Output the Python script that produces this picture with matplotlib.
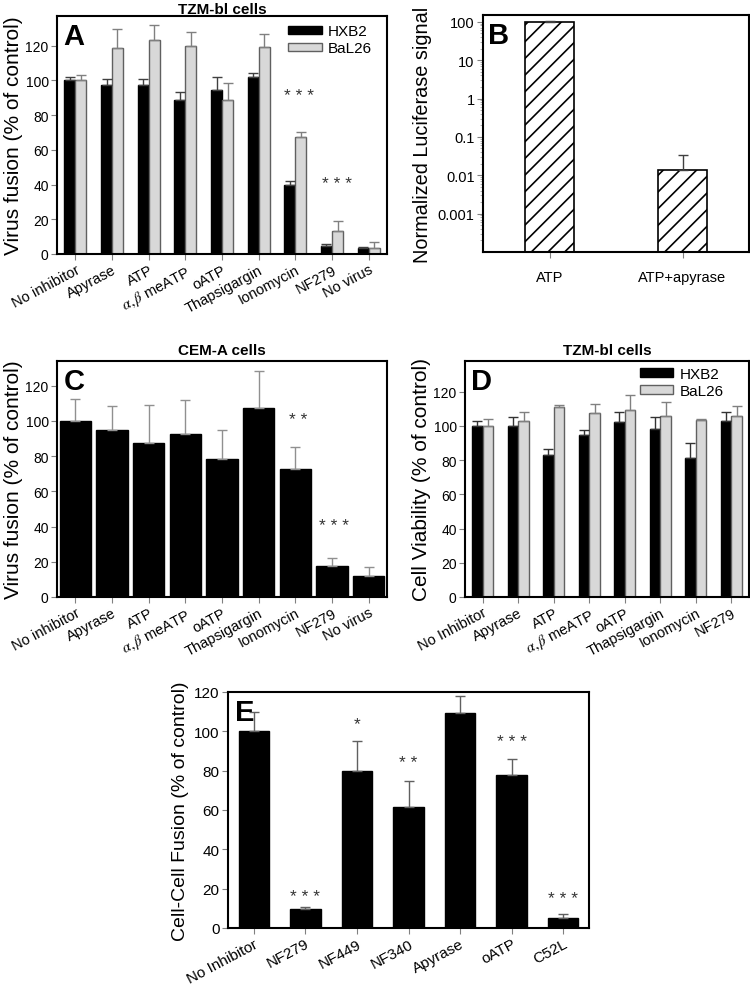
import numpy as np
import matplotlib
matplotlib.use("Agg")
import matplotlib.pyplot as plt
from matplotlib.ticker import FixedLocator, LogLocator, NullFormatter

plt.rcParams['font.family'] = ['Liberation Sans', 'DejaVu Sans']
plt.rcParams['mathtext.fontset'] = 'stix'
plt.rcParams['hatch.linewidth'] = 1.2

# ---- data ----
ab = r"$\alpha,\beta$ meATP"
cats_a = ["No inhibitor", "Apyrase", "ATP", ab, "oATP",
          "Thapsigargin", "Ionomycin", "NF279", "No virus"]
a_hxb2 = [100, 97, 97.4, 88.9, 94.6, 101.6, 39.9, 4.6, 3.5]
a_hxb2_err = [1.6, 4.0, 3.6, 4.1, 7.0, 2.7, 1.9, 1.0, 0.6]
a_bal = [100.3, 118.8, 123.4, 119.6, 88.4, 119.2, 67.5, 13.2, 3.6]
a_bal_err = [2.8, 10.8, 8.5, 8.1, 9.9, 7.3, 2.7, 5.6, 3.1]

cats_b = ["ATP", "ATP+apyrase"]
b_vals = [100, 0.0138]
b_err = [3, 0.0208]

cats_c = ["No inhibitor", "Apyrase", "ATP", ab, "oATP",
          "Thapsigargin", "Ionomycin", "NF279", "No virus"]
c_vals = [100, 95, 87.5, 92.8, 78.5, 107.5, 72.7, 17.6, 11.9]
c_err = [12.3, 13.6, 21.6, 19.2, 16.2, 21.0, 12.6, 4.8, 5.0]

cats_d = ["No Inhibitor", "Apyrase", "ATP", ab, "oATP",
          "Thapsigargin", "Ionomycin", "NF279"]
d_hxb2 = [100, 100, 83, 94.8, 102.5, 98, 81, 102.7]
d_hxb2_err = [3.0, 5.3, 3.6, 3.0, 5.6, 7.5, 9.0, 5.5]
d_bal = [100, 103, 111, 107.6, 109.6, 105.9, 103.3, 105.8]
d_bal_err = [4.0, 5.3, 1.5, 5.3, 8.8, 8.0, 1.0, 6.0]

cats_e = ["No Inhibitor", "NF279", "NF449", "NF340", "Apyrase", "oATP", "C52L"]
e_vals = [100, 9.8, 79.7, 61.5, 109.3, 77.6, 5.1]
e_err = [9.9, 0.9, 15.2, 13.2, 8.7, 8.2, 1.8]
e_stars = ["", "***", "*", "**", "", "***", "***"]
e_star_y = [0, 16, 104, 84, 0, 95, 15]

BLACK = "black"
GRAY = "#d8d8d8"
GRAY_EDGE = "#606060"
STAR = "#333333"

fig = plt.figure(figsize=(7.5, 9.87), dpi=100)
W, H = 750, 987


def add_ax(l, t, r, b):
    return fig.add_axes([l / W, 1 - b / H, (r - l) / W, (b - t) / H])


def style(ax, size=10):
    for s in ax.spines.values():
        s.set_linewidth(1.5)
    ax.tick_params(axis='both', direction='out', length=4, width=0.8,
                   color='#808080', labelsize=size, pad=2)


def err(ax, x, y, e, color):
    ax.errorbar(x, y, yerr=[np.zeros(len(e)), e], fmt='none', ecolor=color,
                elinewidth=1, capsize=3.5, capthick=1)


def letter(ax, s):
    ax.text(0.02, 0.975, s, transform=ax.transAxes, fontsize=21,
            fontweight='bold', va='top', ha='left')


def xlabels(ax, labels, size=10.5):
    ax.set_xticks(np.arange(len(labels)))
    ax.set_xticklabels(labels, rotation=28, ha='right', rotation_mode='anchor',
                       fontsize=size)


def stars(ax, x, y, s):
    ax.text(x, y, " ".join(s), ha='center', va='center', fontsize=12.5, color=STAR)


def legend(ax, x0, y0):
    ax.legend(loc='upper left', bbox_to_anchor=(x0, y0), frameon=False,
              fontsize=11, handlelength=2.2, handleheight=0.45,
              handletextpad=0.4, borderpad=0, borderaxespad=0, labelspacing=0.2)


# ---- Panel A ----
ax = add_ax(57, 17, 387, 255)
style(ax)
x = np.arange(len(cats_a))
w = 0.3
ax.bar(x - w / 2, a_hxb2, w, color=BLACK, edgecolor=BLACK, lw=1, label="HXB2", zorder=2)
ax.bar(x + w / 2, a_bal, w, color=GRAY, edgecolor=GRAY_EDGE, lw=1, label="BaL26", zorder=2)
err(ax, x - w / 2, a_hxb2, a_hxb2_err, '#404040')
err(ax, x + w / 2, a_bal, a_bal_err, '#808080')
ax.set_xlim(-0.5, len(cats_a) - 0.5)
ax.set_ylim(0, 137)
ax.set_yticks(range(0, 121, 20))
xlabels(ax, cats_a)
ax.set_ylabel("Virus fusion (% of control)", fontsize=15, labelpad=2)
ax.set_title("TZM-bl cells", fontsize=11, fontweight='bold', pad=2)
stars(ax, 6.09, 91, "***")
stars(ax, 7.13, 40.5, "***")
letter(ax, "A")
legend(ax, 0.70, 0.965)

# ---- Panel B ----
ax = add_ax(483, 16, 749, 253)
style(ax, 10.5)
xb = np.arange(len(cats_b))
ax.bar(xb, b_vals, 0.37, color='white', edgecolor=BLACK, hatch='//', lw=1.2, zorder=2)
err(ax, xb, b_vals, b_err, '#404040')
ax.set_yscale('log')
ax.set_ylim(1e-4, 150)
ax.set_xlim(-0.5, 1.5)
yt = [0.001, 0.01, 0.1, 1, 10, 100]
ax.yaxis.set_major_locator(FixedLocator(yt))
ax.set_yticklabels(["0.001", "0.01", "0.1", "1", "10", "100"])
ax.yaxis.set_minor_locator(LogLocator(base=10, subs=np.arange(2, 10)))
ax.yaxis.set_minor_formatter(NullFormatter())
ax.tick_params(axis='y', which='minor', length=2, color='#a0a0a0')
ax.set_xticks(xb)
ax.set_xticklabels(cats_b, fontsize=10.5)
ax.tick_params(axis='x', pad=9)
ax.set_ylabel("Normalized Luciferase signal", fontsize=14.3, labelpad=4)
letter(ax, "B")

# ---- Panel C ----
ax = add_ax(57, 362, 387, 598)
style(ax)
xc = np.arange(len(cats_c))
ax.bar(xc, c_vals, 0.85, color=BLACK, edgecolor=BLACK, zorder=2)
err(ax, xc, c_vals, c_err, '#909090')
ax.set_xlim(-0.5, len(cats_c) - 0.5)
ax.set_ylim(0, 134)
ax.set_yticks(range(0, 121, 20))
xlabels(ax, cats_c)
ax.set_ylabel("Virus fusion (% of control)", fontsize=15, labelpad=2)
ax.set_title("CEM-A cells", fontsize=11, fontweight='bold', pad=5)
stars(ax, 6.07, 100.5, "**")
stars(ax, 7.05, 40.5, "***")
letter(ax, "C")

# ---- Panel D ----
ax = add_ax(465, 362, 749, 598)
style(ax)
xd = np.arange(len(cats_d))
ax.bar(xd - w / 2, d_hxb2, w, color=BLACK, edgecolor=BLACK, lw=1, label="HXB2", zorder=2)
ax.bar(xd + w / 2, d_bal, w, color=GRAY, edgecolor=GRAY_EDGE, lw=1, label="BaL26", zorder=2)
err(ax, xd - w / 2, d_hxb2, d_hxb2_err, '#333333')
err(ax, xd + w / 2, d_bal, d_bal_err, '#808080')
ax.set_xlim(-0.5, len(cats_d) - 0.5)
ax.set_ylim(0, 138)
ax.set_yticks(range(0, 121, 20))
xlabels(ax, cats_d)
ax.set_ylabel("Cell Viability (% of control)", fontsize=15, labelpad=2)
ax.set_title("TZM-bl cells", fontsize=11, fontweight='bold', pad=5)
letter(ax, "D")
legend(ax, 0.615, 0.975)

# ---- Panel E ----
ax = add_ax(228, 693, 589, 929)
style(ax, 11)
xe = np.arange(len(cats_e))
ax.bar(xe, e_vals, 0.59, color=BLACK, edgecolor=BLACK, zorder=2)
err(ax, xe, e_vals, e_err, '#606060')
for xi, s, yy in zip(xe, e_stars, e_star_y):
    if s:
        stars(ax, xi, yy, s)
ax.set_xlim(-0.5, len(cats_e) - 0.5)
ax.set_ylim(0, 120)
ax.set_yticks(range(0, 121, 20))
xlabels(ax, cats_e, 11)
ax.set_ylabel("Cell-Cell Fusion (% of control)", fontsize=14, labelpad=4)
letter(ax, "E")

fig.savefig("out.png", dpi=100)
